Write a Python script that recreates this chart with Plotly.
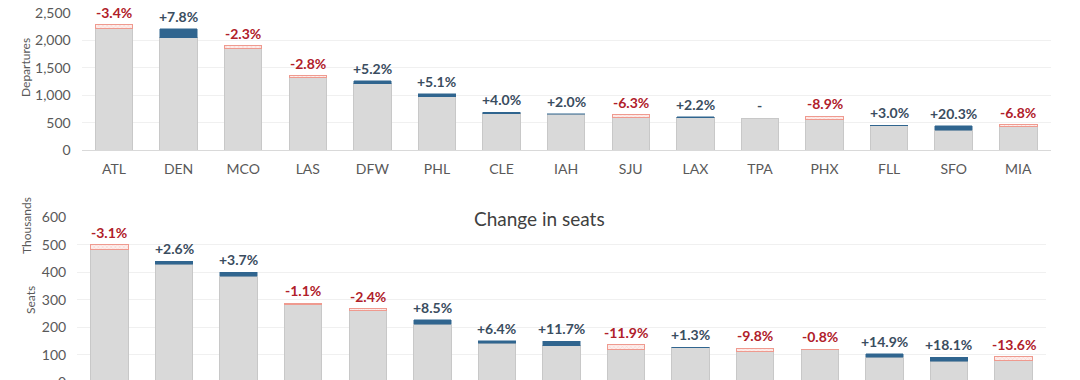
import plotly.graph_objects as go

airports = ["ATL", "DEN", "MCO", "LAS", "DFW", "PHL", "CLE", "IAH", "SJU", "LAX", "TPA", "PHX", "FLL", "SFO", "MIA"]

# Departures: prior-period value and % change
dep_prev = [2290, 2050, 1900, 1360, 1205, 975, 660, 650, 640, 590, 584, 615, 440, 365, 460]
dep_pct = [-3.4, 7.8, -2.3, -2.8, 5.2, 5.1, 4.0, 2.0, -6.3, 2.2, 0.0, -8.9, 3.0, 20.3, -6.8]

# Seats (thousands): prior-period value and % change
seat_prev = [500, 430, 386, 288, 268, 211, 143, 134, 137, 127, 124, 121, 91, 77, 94]
seat_pct = [-3.1, 2.6, 3.7, -1.1, -2.4, 8.5, 6.4, 11.7, -11.9, 1.3, -9.8, -0.8, 14.9, 18.1, -13.6]

FONT = "Lato"
GRAY = "#d9d9d9"
GRAY_LINE = "#c8c8c8"
BLUE = "#30658f"
RED_TXT = "#b0202a"
BLUE_TXT = "#3a4d60"
HATCH = "#ef9a8f"
TICK = "#595959"

W, H = 1080, 420


def px_x(p):
    return p / W


def px_y(p):
    return 1 - p / H


fig = go.Figure()


def add_panel(prev, pct, xa, ya):
    cur = [p * (1 + c / 100) for p, c in zip(prev, pct)]
    base = [min(p, c) for p, c in zip(prev, cur)]
    up = [(c - p) if c > p else None for p, c in zip(prev, cur)]
    down = [(p - c) if p > c else None for p, c in zip(prev, cur)]
    common = dict(x=airports, xaxis=xa, yaxis=ya, width=0.58, showlegend=False, hoverinfo="skip")
    fig.add_trace(go.Bar(y=base, marker=dict(color=GRAY, line=dict(color=GRAY_LINE, width=1)), **common))
    fig.add_trace(go.Bar(y=up, marker=dict(color=BLUE, line=dict(color=BLUE, width=0.5)), **common))
    fig.add_trace(go.Bar(y=down, marker=dict(color="#fdeeec", line=dict(color=HATCH, width=1),
                                               pattern=dict(shape="x", fgcolor=HATCH, size=3, solidity=0.2)),
                         **common))
    for a, p, c, v in zip(airports, pct, cur, prev):
        top = max(v, c)
        if p == 0:
            txt, col = "-", BLUE_TXT
        elif p > 0:
            txt, col = f"+{p:.1f}%", BLUE_TXT
        else:
            txt, col = f"{p:.1f}%", RED_TXT
        fig.add_annotation(x=a, y=top, xref=xa, yref=ya, text=txt, showarrow=False,
                           yanchor="bottom", yshift=2,
                           font=dict(family=FONT, size=14, color=col, weight="bold"))


add_panel(dep_prev, dep_pct, "x", "y")
add_panel(seat_prev, seat_pct, "x2", "y2")

axis_common = dict(showgrid=False, showline=True, linecolor="#d9d9d9", linewidth=1, ticks="",
                   automargin=False, tickfont=dict(family=FONT, size=14, color=TICK))
yaxis_common = dict(showgrid=True, gridcolor="#f0f0f0", gridwidth=1, zeroline=False, ticks="",
                    automargin=False, ticklabeloverflow="allow", ticklabelstandoff=10,
                    tickfont=dict(family=FONT, size=14, color=TICK), tickformat=",d")

fig.update_layout(
    width=W, height=H,
    margin=dict(l=0, r=0, t=0, b=0),
    paper_bgcolor="white", plot_bgcolor="white",
    barmode="stack", bargap=0.42,
    font=dict(family=FONT, color=TICK),
    xaxis=dict(domain=[px_x(81.7), px_x(1050.6)], anchor="y", ticklabelstandoff=6, **axis_common),
    yaxis=dict(domain=[px_y(150), px_y(13)], anchor="x", range=[0, 2501], dtick=500, **yaxis_common),
    xaxis2=dict(domain=[px_x(77.2), px_x(1045.8)], anchor="y2", ticklabelstandoff=6, **axis_common),
    yaxis2=dict(domain=[px_y(382.5), px_y(217.3)], anchor="x2", range=[0, 600.5], dtick=100, **yaxis_common),
)

# Axis titles
title_font = dict(family=FONT, size=12, color=TICK)
fig.add_annotation(x=px_x(26), y=px_y(68), xref="paper", yref="paper", text="Departures", textangle=-90,
                   xanchor="center", yanchor="middle", showarrow=False, font=title_font)
fig.add_annotation(x=px_x(26), y=px_y(226), xref="paper", yref="paper", text="Thousands", textangle=-90,
                   xanchor="center", yanchor="middle", showarrow=False, font=title_font)
fig.add_annotation(x=px_x(30), y=px_y(300), xref="paper", yref="paper", text="Seats", textangle=-90,
                   xanchor="center", yanchor="middle", showarrow=False, font=title_font)

# Panel title
fig.add_annotation(x=px_x(539), y=px_y(218), xref="paper", yref="paper", text="Change in seats",
                   xanchor="center", yanchor="middle", showarrow=False, bgcolor="white", borderpad=8,
                   font=dict(family=FONT, size=19, color="#404040"))

fig.write_html("out.html", config={"displayModeBar": False},
               post_script="document.body.style.margin='0';")
